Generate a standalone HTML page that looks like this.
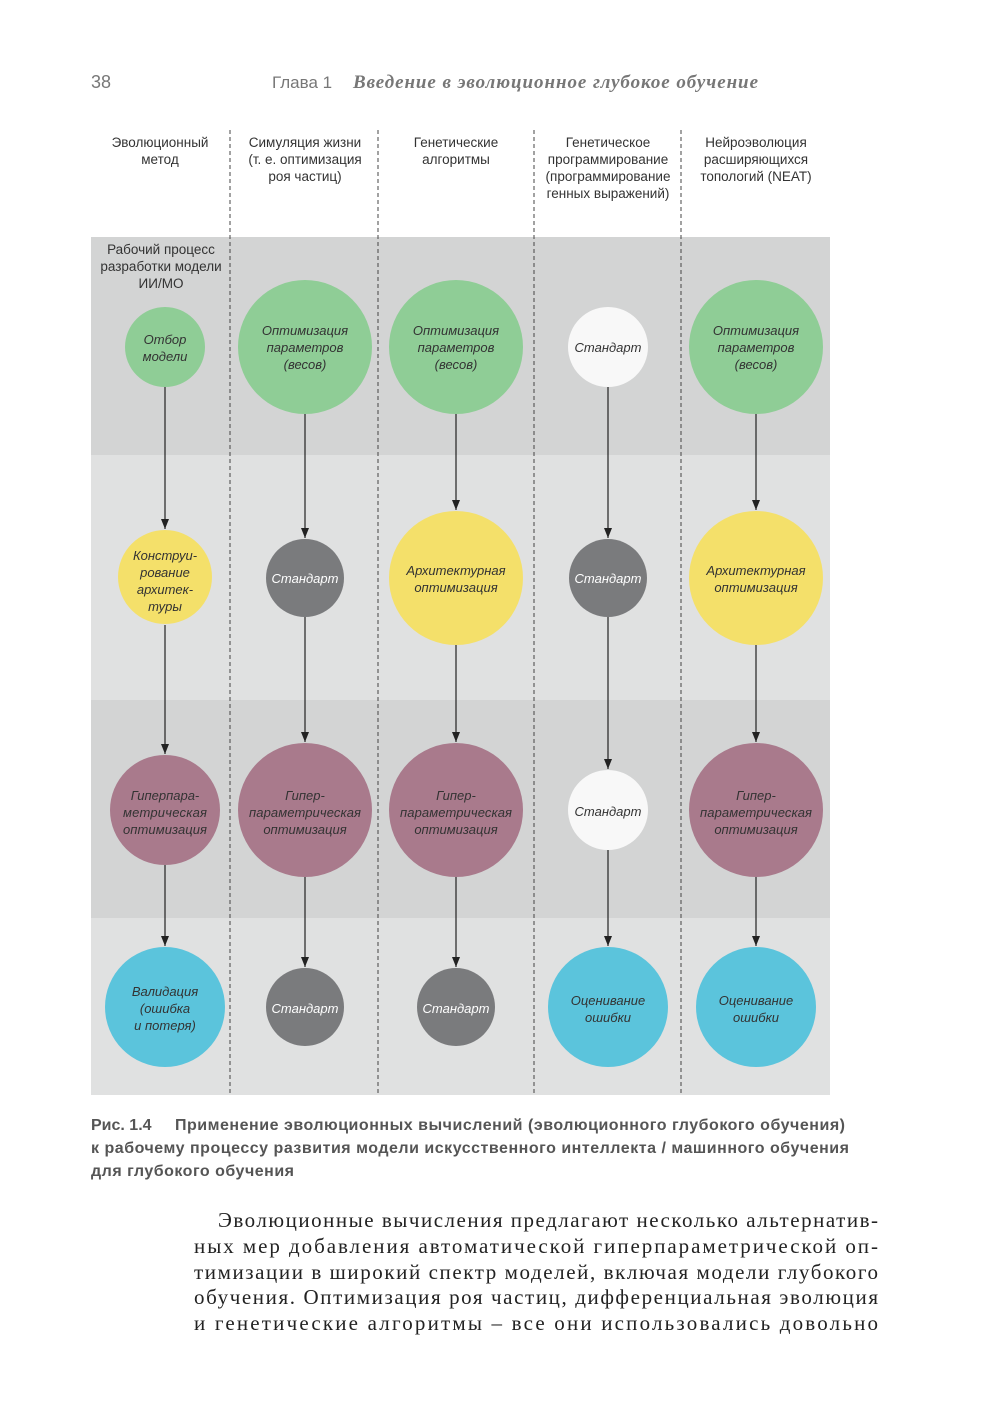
<!DOCTYPE html>
<html><head><meta charset="utf-8"><style>
body{margin:0;background:#fff}
svg{display:block}
.h{font-family:"Liberation Sans Narrow","Liberation Sans",sans-serif;font-size:13.5px;fill:#333;text-anchor:middle}
.c{font-family:"Liberation Sans Narrow","Liberation Sans",sans-serif;font-size:13px;font-style:italic;fill:#333;text-anchor:middle}
.w{fill:#fff}
.cap{font-family:"Liberation Sans Narrow","Liberation Sans",sans-serif;font-size:16px;font-weight:bold;fill:#555}
.b{font-family:"Liberation Serif",serif;font-size:21px;fill:#222}
</style></head><body>
<svg width="1000" height="1424" viewBox="0 0 1000 1424" xmlns="http://www.w3.org/2000/svg">
<defs><marker id="a" markerWidth="10" markerHeight="8" refX="10" refY="4" orient="auto" markerUnits="userSpaceOnUse"><path d="M0,0 L10,4 L0,8 Z" fill="#222"/></marker></defs>
<text x="91" y="88" font-family="Liberation Sans" font-size="18" fill="#777">38</text>
<text x="272" y="88" font-family="Liberation Sans" font-size="17" fill="#777">Глава 1</text>
<text x="353" y="88" font-family="Liberation Serif" font-size="19" font-style="italic" font-weight="bold" fill="#777" textLength="405">Введение в эволюционное глубокое обучение</text>

<rect x="91" y="237" width="739" height="218" fill="#d3d4d4"/>
<rect x="91" y="455" width="739" height="245" fill="#e0e1e1"/>
<rect x="91" y="700" width="739" height="218" fill="#d3d4d4"/>
<rect x="91" y="918" width="739" height="177" fill="#e0e1e1"/>
<g stroke="#444" stroke-width="1" stroke-dasharray="4,3">
<line x1="230" y1="130" x2="230" y2="1095"/><line x1="378" y1="130" x2="378" y2="1095"/>
<line x1="534" y1="130" x2="534" y2="1095"/><line x1="681" y1="130" x2="681" y2="1095"/>
</g>
<text class="h" x="160" y="147">Эволюционный</text><text class="h" x="160" y="164">метод</text>
<text class="h" x="305" y="147">Симуляция жизни</text><text class="h" x="305" y="164">(т. е. оптимизация</text><text class="h" x="305" y="181">роя частиц)</text>
<text class="h" x="456" y="147">Генетические</text><text class="h" x="456" y="164">алгоритмы</text>
<text class="h" x="608" y="147">Генетическое</text><text class="h" x="608" y="164">программирование</text><text class="h" x="608" y="181">(программирование</text><text class="h" x="608" y="198">генных выражений)</text>
<text class="h" x="756" y="147">Нейроэволюция</text><text class="h" x="756" y="164">расширяющихся</text><text class="h" x="756" y="181">топологий (NEAT)</text>
<text class="h" x="161" y="254">Рабочий процесс</text><text class="h" x="161" y="271">разработки модели</text><text class="h" x="161" y="288">ИИ/МО</text>

<g stroke="#222" stroke-width="1.2" marker-end="url(#a)">
<line x1="165" y1="387" x2="165" y2="529"/><line x1="165" y1="625" x2="165" y2="754"/><line x1="165" y1="865" x2="165" y2="946"/>
<line x1="305" y1="414" x2="305" y2="538"/><line x1="305" y1="617" x2="305" y2="742"/><line x1="305" y1="877" x2="305" y2="967"/>
<line x1="456" y1="414" x2="456" y2="510"/><line x1="456" y1="645" x2="456" y2="742"/><line x1="456" y1="877" x2="456" y2="967"/>
<line x1="608" y1="387" x2="608" y2="538"/><line x1="608" y1="617" x2="608" y2="769"/><line x1="608" y1="850" x2="608" y2="946"/>
<line x1="756" y1="414" x2="756" y2="510"/><line x1="756" y1="645" x2="756" y2="742"/><line x1="756" y1="877" x2="756" y2="946"/>
</g>

<circle cx="165" cy="347" r="40" fill="#8fcd96"/>
<circle cx="305" cy="347" r="67" fill="#8fcd96"/>
<circle cx="456" cy="347" r="67" fill="#8fcd96"/>
<circle cx="608" cy="347" r="40" fill="#f8f8f8"/>
<circle cx="756" cy="347" r="67" fill="#8fcd96"/>
<circle cx="165" cy="577" r="47" fill="#f4e06a"/>
<circle cx="305" cy="578" r="39" fill="#7a7b7d"/>
<circle cx="456" cy="578" r="67" fill="#f4e06a"/>
<circle cx="608" cy="578" r="39" fill="#7a7b7d"/>
<circle cx="756" cy="578" r="67" fill="#f4e06a"/>
<circle cx="165" cy="810" r="55" fill="#a97a8c"/>
<circle cx="305" cy="810" r="67" fill="#a97a8c"/>
<circle cx="456" cy="810" r="67" fill="#a97a8c"/>
<circle cx="608" cy="810" r="40" fill="#f8f8f8"/>
<circle cx="756" cy="810" r="67" fill="#a97a8c"/>
<circle cx="165" cy="1007" r="60" fill="#5bc4dc"/>
<circle cx="305" cy="1007" r="39" fill="#7a7b7d"/>
<circle cx="456" cy="1007" r="39" fill="#7a7b7d"/>
<circle cx="608" cy="1007" r="60" fill="#5bc4dc"/>
<circle cx="756" cy="1007" r="60" fill="#5bc4dc"/>

<text class="c" x="165" y="344">Отбор</text><text class="c" x="165" y="361">модели</text>
<text class="c" x="305" y="335">Оптимизация</text><text class="c" x="305" y="352">параметров</text><text class="c" x="305" y="369">(весов)</text>
<text class="c" x="456" y="335">Оптимизация</text><text class="c" x="456" y="352">параметров</text><text class="c" x="456" y="369">(весов)</text>
<text class="c" x="608" y="352">Стандарт</text>
<text class="c" x="756" y="335">Оптимизация</text><text class="c" x="756" y="352">параметров</text><text class="c" x="756" y="369">(весов)</text>
<text class="c" x="165" y="560">Конструи-</text><text class="c" x="165" y="577">рование</text><text class="c" x="165" y="594">архитек-</text><text class="c" x="165" y="611">туры</text>
<text class="c w" x="305" y="583">Стандарт</text>
<text class="c" x="456" y="575">Архитектурная</text><text class="c" x="456" y="592">оптимизация</text>
<text class="c w" x="608" y="583">Стандарт</text>
<text class="c" x="756" y="575">Архитектурная</text><text class="c" x="756" y="592">оптимизация</text>
<text class="c" x="165" y="800">Гиперпара-</text><text class="c" x="165" y="817" textLength="84">метрическая</text><text class="c" x="165" y="834" textLength="84">оптимизация</text>
<text class="c" x="305" y="800">Гипер-</text><text class="c" x="305" y="817" textLength="112">параметрическая</text><text class="c" x="305" y="834">оптимизация</text>
<text class="c" x="456" y="800">Гипер-</text><text class="c" x="456" y="817" textLength="112">параметрическая</text><text class="c" x="456" y="834">оптимизация</text>
<text class="c" x="608" y="816">Стандарт</text>
<text class="c" x="756" y="800">Гипер-</text><text class="c" x="756" y="817" textLength="112">параметрическая</text><text class="c" x="756" y="834">оптимизация</text>
<text class="c" x="165" y="996">Валидация</text><text class="c" x="165" y="1013">(ошибка</text><text class="c" x="165" y="1030">и потеря)</text>
<text class="c w" x="305" y="1013">Стандарт</text>
<text class="c w" x="456" y="1013">Стандарт</text>
<text class="c" x="608" y="1005">Оценивание</text><text class="c" x="608" y="1022">ошибки</text>
<text class="c" x="756" y="1005">Оценивание</text><text class="c" x="756" y="1022">ошибки</text>

<text class="cap" x="91" y="1130">Рис. 1.4</text>
<text class="cap" x="175" y="1130" textLength="670">Применение эволюционных вычислений (эволюционного глубокого обучения)</text>
<text class="cap" x="91" y="1153" textLength="758">к рабочему процессу развития модели искусственного интеллекта / машинного обучения</text>
<text class="cap" x="91" y="1176" textLength="203">для глубокого обучения</text>

<text class="b" x="218" y="1227" textLength="660">Эволюционные вычисления предлагают несколько альтернатив-</text>
<text class="b" x="194" y="1253" textLength="684">ных мер добавления автоматической гиперпараметрической оп-</text>
<text class="b" x="194" y="1279" textLength="684">тимизации в широкий спектр моделей, включая модели глубокого</text>
<text class="b" x="194" y="1304" textLength="684">обучения. Оптимизация роя частиц, дифференциальная эволюция</text>
<text class="b" x="194" y="1330" textLength="684">и генетические алгоритмы – все они использовались довольно</text>
</svg>
</body></html>
